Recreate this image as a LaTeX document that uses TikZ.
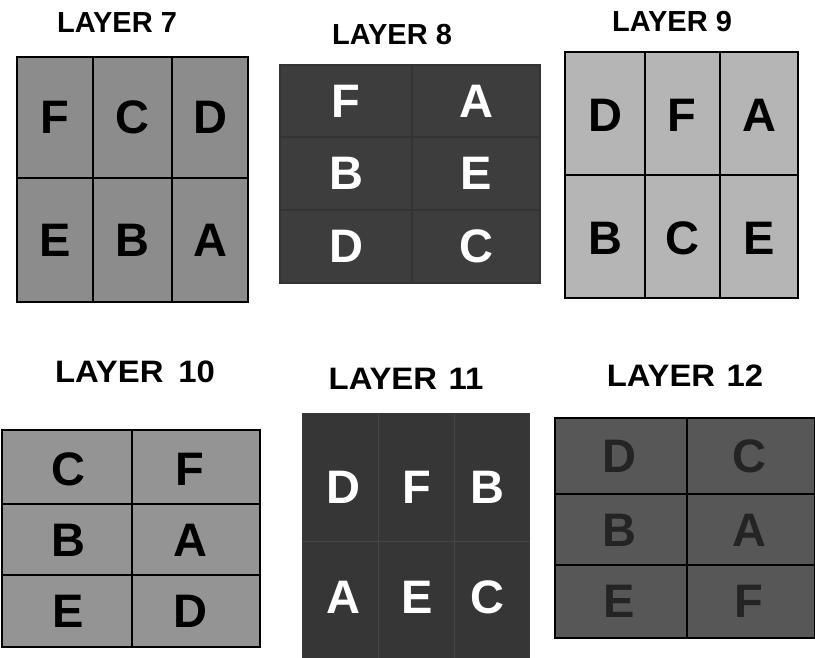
\documentclass[tikz,border=0pt]{standalone}
\usepackage{fontspec}
\usepackage{graphicx}
\setmainfont{Liberation Sans}
\usetikzlibrary{positioning}
\definecolor{fill7}{gray}{0.55}
\definecolor{fill8}{gray}{0.24}
\definecolor{fill9}{gray}{0.71}
\definecolor{fill10}{gray}{0.58}
\definecolor{fill11}{gray}{0.21}
\definecolor{fill12}{gray}{0.34}
\definecolor{dark12}{gray}{0.14}
\definecolor{line11}{gray}{0.27}
\newcommand{\widetitle}[2]{\scalebox{#1}[1]{#2}}

\begin{document}
\begin{tikzpicture}[x=1pt,y=-1pt,
  layertitle/.style={font=\fontsize{29}{32}\selectfont\bfseries,text=black,inner sep=0pt},
  lowtitle/.style={layertitle,font=\fontsize{31}{34}\selectfont\bfseries},
  cell/.style={font=\fontsize{47}{50}\selectfont\bfseries,inner sep=0pt},
  gridline/.style={line width=1.2pt,draw=black},
]
  \useasboundingbox (0,0) rectangle (815,658);

  % layer 7
  \node[layertitle] (t7) at (117,23) {LAYER 7};
  \draw[gridline,fill=fill7] (17,57) rectangle (248,302);
  \draw[gridline] (93,57) -- (93,302) (172,57) -- (172,302) (17,178) -- (248,178);
  \foreach \x/\y/\l in {55/117/F,132/117/C,210/117/D,55/240/E,132/240/B,210/240/A}
    \node[cell] (c7\l) at (\x,\y) {\l};

  % layer 8
  \node[layertitle] (t8) at (392,35) {LAYER 8};
  \draw[gridline,draw=black!80,fill=fill8] (280,65) rectangle (540,283);
  \draw[gridline,draw=black!80] (412,65) -- (412,283) (280,137) -- (540,137) (280,210) -- (540,210);
  \foreach \x/\y/\l in {346/101/F,476/101/A,346/173/B,476/173/E,346/246/D,476/246/C}
    \node[cell,text=white] (c8\l) at (\x,\y) {\l};

  % layer 9
  \node[layertitle] (t9) at (672,22) {LAYER 9};
  \draw[gridline,fill=fill9] (565,52) rectangle (798,298);
  \draw[gridline] (645,52) -- (645,298) (720,52) -- (720,298) (565,175) -- (798,175);
  \foreach \x/\y/\l in {605/115/D,682/115/F,759/115/A,605/238/B,682/238/C,759/238/E}
    \node[cell] (c9\l) at (\x,\y) {\l};

  % layer 10
  \node[lowtitle] (t10) at (135,372) {\widetitle{1.06}{LAYER\hspace{0.45em}10}};
  \draw[gridline,fill=fill10] (2,430) rectangle (260,647);
  \draw[gridline] (132,430) -- (132,647) (2,504) -- (260,504) (2,575) -- (260,575);
  \foreach \x/\y/\l in {68/469/C,190/469/F,68/540/B,190/540/A,68/611/E,190/611/D}
    \node[cell] (c10\l) at (\x,\y) {\l};

  % layer 11
  \node[lowtitle] (t11) at (406,379) {\widetitle{1.06}{LAYER\hspace{0.35em}11}};
  \fill[fill11] (302,413) rectangle (530,658);
  \draw[line11,line width=0.8pt] (378,413) -- (378,658) (454,413) -- (454,658) (302,541) -- (530,541);
  \foreach \x/\y/\l in {343/487/D,417/487/F,487/487/B,343/597/A,417/597/E,487/597/C}
    \node[cell,text=white] (c11\l) at (\x,\y) {\l};

  % layer 12
  \node[lowtitle] (t12) at (685,376) {\widetitle{1.06}{LAYER\hspace{0.35em}12}};
  \draw[gridline,fill=fill12] (555,418) rectangle (815,638);
  \draw[gridline] (687,418) -- (687,638) (555,494) -- (815,494) (555,565) -- (815,565);
  \foreach \x/\y/\l in {619/456/D,749/456/C,619/530/B,749/530/A,619/601/E,749/601/F}
    \node[cell,text=dark12] (c12\l) at (\x,\y) {\l};
\end{tikzpicture}
\end{document}
